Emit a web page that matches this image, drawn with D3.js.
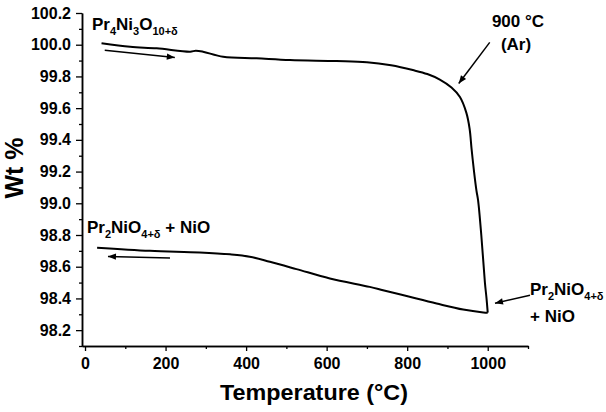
<!DOCTYPE html>
<html><head><meta charset="utf-8">
<script src="https://cdn.jsdelivr.net/npm/d3@7"></script>
<style>body{margin:0;background:#fff}svg{display:block;font-family:"Liberation Sans",Arial,sans-serif;font-weight:bold}</style>
</head><body>
<svg id="c" width="606" height="412"></svg>
<script>
// Heating curve (Ar), temperature °C
const heatT = [41, 112, 178, 261, 275, 293, 343, 426, 509, 624, 700, 760, 814, 850, 881, 910, 931, 947, 955, 960, 966, 972, 976, 984, 993, 997, 1000];
const heatW = [100.009, 99.987, 99.977, 99.956, 99.962, 99.956, 99.924, 99.914, 99.903, 99.897, 99.89, 99.87, 99.84, 99.815, 99.78, 99.73, 99.67, 99.57, 99.47, 99.34, 99.2, 99.08, 99.02, 98.80, 98.50, 98.40, 98.31];
// Cooling curve
const coolT = [1000, 989, 939, 873, 806, 740, 707, 608, 525, 459, 409, 360, 285, 161, 30];
const coolW = [98.31, 98.312, 98.33, 98.368, 98.41, 98.452, 98.473, 98.526, 98.585, 98.631, 98.663, 98.678, 98.69, 98.70, 98.72];
const xTicks = [0, 200, 400, 600, 800, 1000];
const yTicks = [98.2, 98.4, 98.6, 98.8, 99.0, 99.2, 99.4, 99.6, 99.8, 100.0, 100.2];

const svg = d3.select("#c");
const x = d3.scaleLinear().domain([-7.5, 1100]).range([82, 528]);
const y = d3.scaleLinear().domain([98.1, 100.2]).range([346, 13]);

svg.append("defs").append("marker").attr("id","ah").attr("viewBox","0 0 10 10")
  .attr("refX",10).attr("refY",5).attr("markerWidth",9).attr("markerHeight",8)
  .attr("markerUnits","userSpaceOnUse").attr("orient","auto")
  .append("path").attr("d","M0,1 L10,5 L0,9 Z").attr("fill","#000");

// axes
svg.append("g").attr("transform","translate(0,346)")
  .call(d3.axisBottom(x).tickValues(xTicks).tickFormat(d3.format("d")).tickSize(5).tickSizeOuter(0).tickPadding(7));
svg.append("g").attr("transform","translate(0,346)")
  .call(d3.axisBottom(x).tickValues([100,300,500,700,900,1100]).tickSize(3).tickFormat("").tickSizeOuter(0));
svg.append("g").attr("transform","translate(82,0)")
  .call(d3.axisLeft(y).tickValues(yTicks).tickFormat(d3.format(".1f")).tickSize(6).tickSizeOuter(0).tickPadding(5));
svg.append("g").attr("transform","translate(82,0)")
  .call(d3.axisLeft(y).tickValues([98.1,98.3,98.5,98.7,98.9,99.1,99.3,99.5,99.7,99.9,100.1]).tickSize(3).tickFormat("").tickSizeOuter(0));
svg.selectAll(".domain").attr("stroke","#000").attr("stroke-width",1.5);
svg.selectAll(".tick line").attr("stroke","#000").attr("stroke-width",1.3);
svg.selectAll(".tick text").attr("font-size",16).attr("font-weight","bold").attr("font-family","Liberation Sans, Arial, sans-serif").attr("fill","#000");

// curves
const line = d3.line().x(d=>x(d[0])).y(d=>y(d[1])).curve(d3.curveCatmullRom.alpha(0.5));
svg.append("path").datum(heatT.map((t,i)=>[t,heatW[i]]))
  .attr("d", line).attr("fill","none").attr("stroke","#000").attr("stroke-width",2);
svg.append("path").datum(coolT.map((t,i)=>[t,coolW[i]]))
  .attr("d", line).attr("fill","none").attr("stroke","#000").attr("stroke-width",2);

// arrows
function arrow(t1,w1,t2,w2){
  svg.append("line").attr("x1",x(t1)).attr("y1",y(w1)).attr("x2",x(t2)).attr("y2",y(w2))
    .attr("stroke","#000").attr("stroke-width",1.5).attr("marker-end","url(#ah)");
}
arrow(49, 99.965, 223, 99.92);
arrow(211, 98.655, 57, 98.665);
arrow(1005, 100.015, 928, 99.755);
arrow(1105, 98.42, 1018, 98.37);

// labels
function lab(xp, yp, parts, anchor){
  const t = svg.append("text").attr("x",xp).attr("y",yp).attr("font-size",17).attr("text-anchor",anchor||"start");
  parts.forEach(p=>{
    const s = t.append("tspan").text(p[0]);
    if(p[1]==="sub"){ s.attr("font-size",11).attr("dy",5); }
    else if(p[1]==="up"){ s.attr("dy",-5); }
  });
  return t;
}
lab(92, 30, [["Pr"],["4","sub"],["Ni","up"],["3","sub"],["O","up"],["10+δ","sub"]]);
lab(87, 233, [["Pr"],["2","sub"],["NiO","up"],["4+δ","sub"],[" + NiO","up"]]);
lab(530, 295, [["Pr"],["2","sub"],["NiO","up"],["4+δ","sub"]]);
lab(530, 322, [["+ NiO"]]);
lab(518, 27, [["900 °C"]], "middle");
lab(516, 50, [["(Ar)"]], "middle");

svg.append("text").attr("x",314).attr("y",400).attr("text-anchor","middle").attr("font-size",21.5)
  .attr("textLength",188).attr("lengthAdjust","spacingAndGlyphs").text("Temperature (°C)");
svg.append("text").attr("transform","translate(23,168) rotate(-90)").attr("text-anchor","middle").attr("font-size",25).text("Wt %");
</script>
</body></html>
